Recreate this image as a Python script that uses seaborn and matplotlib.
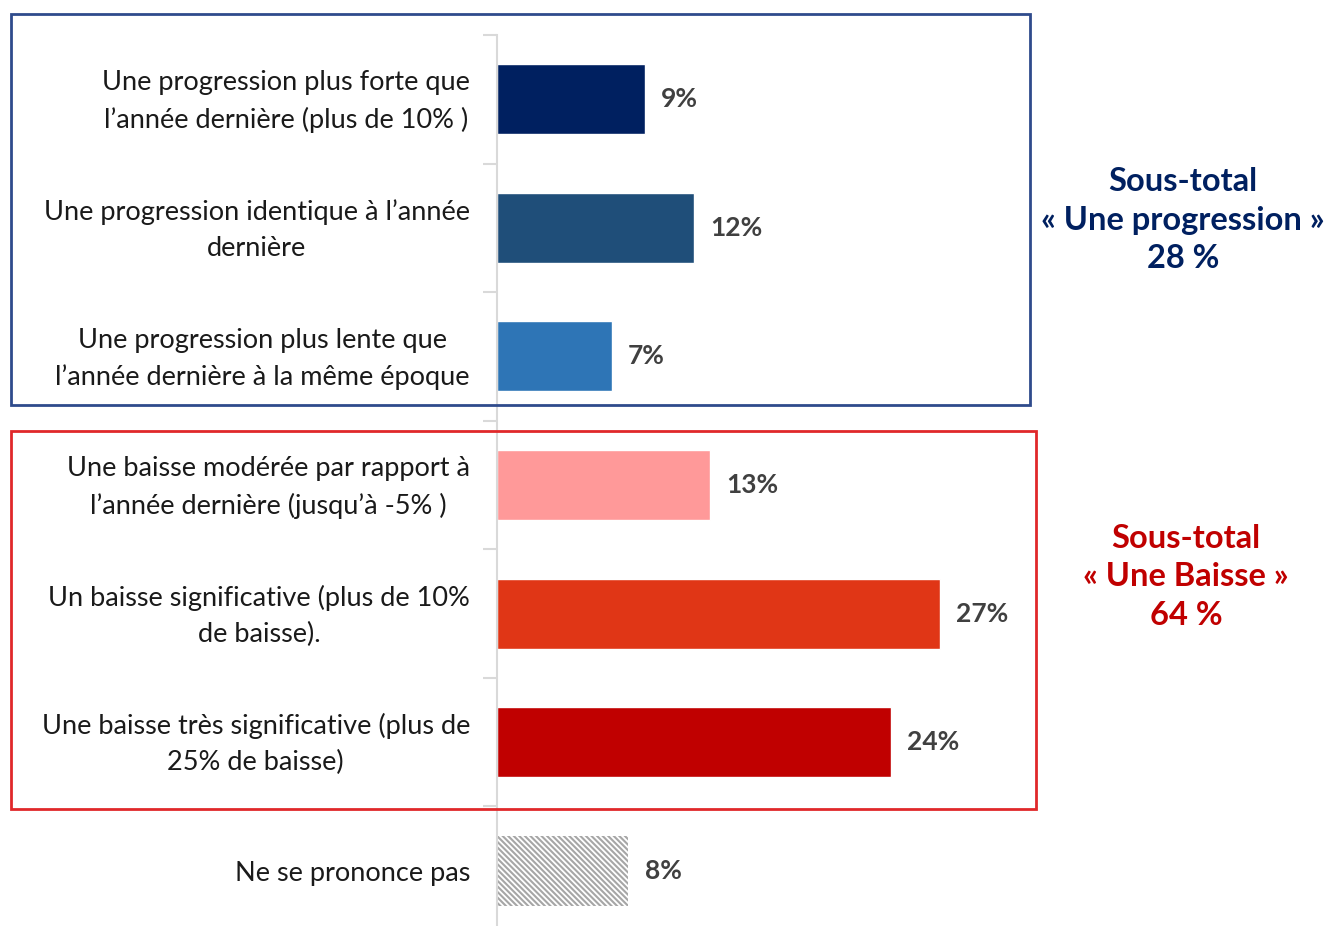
import matplotlib
matplotlib.use("Agg")
import matplotlib.pyplot as plt
import matplotlib.patches as mpatches
import matplotlib.transforms as mtransforms
import numpy as np
import pandas as pd
import seaborn as sns

# data
categories = [
    "Une progression plus forte que\nl’année dernière (plus de 10% )",
    "Une progression identique à l’année\ndernière",
    "Une progression plus lente que\nl’année dernière à la même époque",
    "Une baisse modérée par rapport à\nl’année dernière (jusqu’à -5% )",
    "Un baisse significative (plus de 10%\nde baisse).",
    "Une baisse très significative (plus de\n25% de baisse)",
    "Ne se prononce pas",
]
values = [9, 12, 7, 13, 27, 24, 8]
bar_colors = ["#002060", "#1F4E79", "#2E75B6", "#FF9999", "#E03616", "#C00000", "#FFFFFF"]
subtotal_up = "Sous-total\n« Une progression »\n28 %"
subtotal_down = "Sous-total\n« Une Baisse »\n64 %"

sns.set_theme(style="white")
plt.rcParams["font.family"] = ["Lato", "DejaVu Sans"]
plt.rcParams["hatch.linewidth"] = 1.5

W, H = 1329, 926
fig = plt.figure(figsize=(W / 100, H / 100), dpi=100)
# axes: left edge at x=497, top at y=35, extends a bit below the figure
ax = fig.add_axes([497 / W, -9 / H, 820 / W, (935 - 35) / H])

df = pd.DataFrame({"cat": categories, "val": values})
sns.barplot(data=df, x="val", y="cat", hue="cat", palette=bar_colors,
            orient="h", width=0.545, legend=False, ax=ax, saturation=1)

# hatch the "no answer" bar
last = ax.patches[-1]
last.set_hatch("\\\\\\\\\\\\")
last.set_edgecolor("#A6A6A6")
last.set_linewidth(0)

ax.set_xlim(0, 50)
ax.set_ylim(len(categories) - 0.5, -0.5)
ax.set_xlabel("")
ax.set_ylabel("")
ax.set_xticks([])

# tick marks at band boundaries, labels at centres
ax.set_yticks(np.arange(len(categories) + 1) - 0.5)
ax.set_yticklabels([])
ax.tick_params(axis="y", which="major", left=True, length=10, width=1.5, color="#D9D9D9")
ax.set_yticks(np.arange(len(categories)), minor=True)
ax.set_yticklabels(categories, minor=True, fontsize=19.5, color="#1A1A1A",
                   multialignment="center", linespacing=1.55)
ax.tick_params(axis="y", which="minor", left=False, length=0, pad=19.5)
# nudge the two-line labels up a few pixels
shift = mtransforms.ScaledTranslation(0, 6 / 100, fig.dpi_scale_trans)
for lbl in ax.get_yticklabels(minor=True):
    if "\n" in lbl.get_text():
        lbl.set_transform(lbl.get_transform() + shift)

for side in ["top", "right", "bottom"]:
    ax.spines[side].set_visible(False)
ax.spines["left"].set_color("#D9D9D9")
ax.spines["left"].set_linewidth(1.5)

for i, v in enumerate(values):
    ax.text(v + 1.0, i, f"{v}%", va="center", ha="left", fontsize=19,
            fontweight="bold", color="#404040")

# group boxes
fig.patches.append(mpatches.Rectangle((11 / W, 1 - 405 / H), (1030 - 11) / W, (405 - 14) / H,
                                      transform=fig.transFigure, fill=False,
                                      edgecolor="#2F4B8C", linewidth=2))
fig.patches.append(mpatches.Rectangle((11 / W, 1 - 809 / H), (1036 - 11) / W, (809 - 431) / H,
                                      transform=fig.transFigure, fill=False,
                                      edgecolor="#E0282A", linewidth=2))

fig.text(1183 / W, 1 - 220 / H, subtotal_up, ha="center", va="center", fontsize=23.5,
         fontweight="bold", color="#002060", linespacing=1.38)
fig.text(1186 / W, 1 - 577 / H, subtotal_down, ha="center", va="center", fontsize=23.5,
         fontweight="bold", color="#C00000", linespacing=1.38)

fig.savefig("out.png", dpi=100)
